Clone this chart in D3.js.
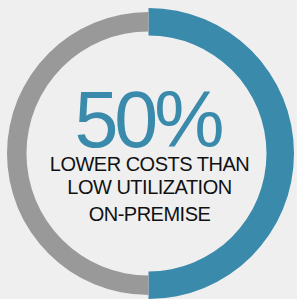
<!DOCTYPE html>
<html>
<head>
<meta charset="utf-8">
<script src="https://cdn.jsdelivr.net/npm/d3@7"></script>
<style>
html,body{margin:0;padding:0;background:#efefef;}
svg{display:block;}
</style>
</head>
<body>
<script>
const categories = ["Savings", "Remainder"];
const values = [50, 50];
const headline = ["50%"];
const captionLines = ["LOWER COSTS THAN", "LOW UTILIZATION", "ON-PREMISE"];

const W = 297, H = 299;
const cx = 148.5, cy = 153.5;
const colors = d3.scaleOrdinal().domain(categories).range(["#3a8aac", "#999999"]);
const inner = d3.scaleOrdinal().domain(categories).range([118, 122]);
const outer = d3.scaleOrdinal().domain(categories).range([145.5, 141.5]);

const svg = d3.select("body").append("svg").attr("width", W).attr("height", H);
svg.append("rect").attr("width", W).attr("height", H).attr("fill", "#efefef");

const pie = d3.pie().sort(null).value(d => d.v);
const data = pie(categories.map((c, i) => ({c, v: values[i]})));
const g = svg.append("g").attr("transform", `translate(${cx},${cy})`);
g.selectAll("path").data(data).join("path")
  .attr("d", d => d3.arc().innerRadius(inner(d.data.c)).outerRadius(outer(d.data.c))(d))
  .attr("fill", d => colors(d.data.c));

svg.append("text")
  .attr("x", 147.5).attr("y", 147)
  .attr("text-anchor", "middle")
  .attr("font-family", "Liberation Sans, Arial, sans-serif")
  .attr("font-size", 79)
  .attr("letter-spacing", "-4px")
  .attr("fill", "#3a8aac")
  .text(headline[0]);

const baselines = [171, 194, 221];
svg.selectAll("text.cap").data(captionLines).join("text")
  .attr("class", "cap")
  .attr("x", 149.5)
  .attr("y", (d, i) => baselines[i])
  .attr("text-anchor", "middle")
  .attr("font-family", "Liberation Sans, Arial, sans-serif")
  .attr("font-size", 20)
  .attr("letter-spacing", "-0.5px")
  .attr("fill", "#111")
  .text(d => d);
</script>
</body>
</html>
